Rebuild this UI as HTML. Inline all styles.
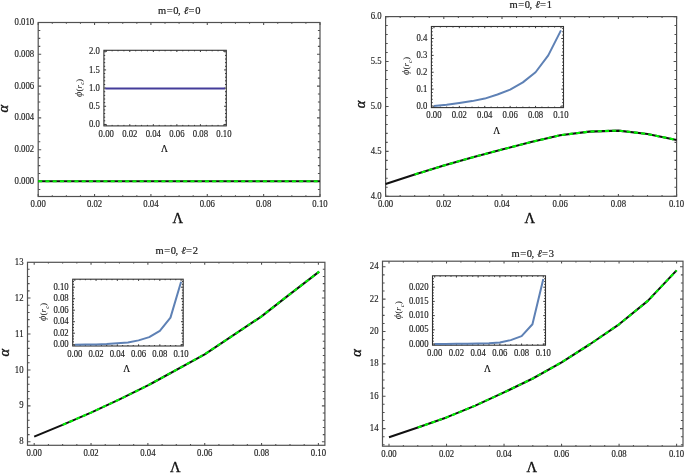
<!DOCTYPE html>
<html><head><meta charset="utf-8"><title>Plots</title>
<style>html,body{margin:0;padding:0;background:#fff;}svg{display:block;}</style></head>
<body><svg width="685" height="474" viewBox="0 0 685 474">
<rect width="685" height="474" fill="#fff"/>
<rect x="38.20" y="22.50" width="281.80" height="174.00" fill="none" stroke="#515151" stroke-width="1.2"/>
<path d="M38.20 196.50v-2.40M38.20 22.50v2.40M52.29 196.50v-1.30M52.29 22.50v1.30M66.38 196.50v-1.30M66.38 22.50v1.30M80.47 196.50v-1.30M80.47 22.50v1.30M94.56 196.50v-2.40M94.56 22.50v2.40M108.65 196.50v-1.30M108.65 22.50v1.30M122.74 196.50v-1.30M122.74 22.50v1.30M136.83 196.50v-1.30M136.83 22.50v1.30M150.92 196.50v-2.40M150.92 22.50v2.40M165.01 196.50v-1.30M165.01 22.50v1.30M179.10 196.50v-1.30M179.10 22.50v1.30M193.19 196.50v-1.30M193.19 22.50v1.30M207.28 196.50v-2.40M207.28 22.50v2.40M221.37 196.50v-1.30M221.37 22.50v1.30M235.46 196.50v-1.30M235.46 22.50v1.30M249.55 196.50v-1.30M249.55 22.50v1.30M263.64 196.50v-2.40M263.64 22.50v2.40M277.73 196.50v-1.30M277.73 22.50v1.30M291.82 196.50v-1.30M291.82 22.50v1.30M305.91 196.50v-1.30M305.91 22.50v1.30M320.00 196.50v-2.40M320.00 22.50v2.40M38.20 189.45h2.10M320.00 189.45h-2.10M38.20 181.50h3.00M320.00 181.50h-3.00M38.20 173.55h2.10M320.00 173.55h-2.10M38.20 165.60h2.10M320.00 165.60h-2.10M38.20 157.65h2.10M320.00 157.65h-2.10M38.20 149.70h3.00M320.00 149.70h-3.00M38.20 141.75h2.10M320.00 141.75h-2.10M38.20 133.80h2.10M320.00 133.80h-2.10M38.20 125.85h2.10M320.00 125.85h-2.10M38.20 117.90h3.00M320.00 117.90h-3.00M38.20 109.95h2.10M320.00 109.95h-2.10M38.20 102.00h2.10M320.00 102.00h-2.10M38.20 94.05h2.10M320.00 94.05h-2.10M38.20 86.10h3.00M320.00 86.10h-3.00M38.20 78.15h2.10M320.00 78.15h-2.10M38.20 70.20h2.10M320.00 70.20h-2.10M38.20 62.25h2.10M320.00 62.25h-2.10M38.20 54.30h3.00M320.00 54.30h-3.00M38.20 46.35h2.10M320.00 46.35h-2.10M38.20 38.40h2.10M320.00 38.40h-2.10M38.20 30.45h2.10M320.00 30.45h-2.10M38.20 22.50h3.00M320.00 22.50h-3.00" stroke="#515151" stroke-width="1.08" fill="none"/>
<g font-family='"Liberation Serif", "DejaVu Serif", serif' font-size="9.6" fill="#1a1a1a" stroke="#1a1a1a" stroke-width="0.15"><text transform="translate(38.20,207.30) scale(0.91,1)" text-anchor="middle">0.00</text><text transform="translate(94.56,207.30) scale(0.91,1)" text-anchor="middle">0.02</text><text transform="translate(150.92,207.30) scale(0.91,1)" text-anchor="middle">0.04</text><text transform="translate(207.28,207.30) scale(0.91,1)" text-anchor="middle">0.06</text><text transform="translate(263.64,207.30) scale(0.91,1)" text-anchor="middle">0.08</text><text transform="translate(320.00,207.30) scale(0.91,1)" text-anchor="middle">0.10</text><text transform="translate(34.20,184.09) scale(0.91,1)" text-anchor="end">0.000</text><text transform="translate(34.20,152.29) scale(0.91,1)" text-anchor="end">0.002</text><text transform="translate(34.20,120.49) scale(0.91,1)" text-anchor="end">0.004</text><text transform="translate(34.20,88.69) scale(0.91,1)" text-anchor="end">0.006</text><text transform="translate(34.20,56.89) scale(0.91,1)" text-anchor="end">0.008</text><text transform="translate(34.20,25.09) scale(0.91,1)" text-anchor="end">0.010</text></g>
<polyline points="38.20,181.20 66.38,181.20 320.00,181.20" fill="none" stroke="#111" stroke-width="2.1" stroke-linejoin="round"/><polyline points="38.20,181.20 66.38,181.20 320.00,181.20" fill="none" stroke="#00f000" stroke-width="2.1" stroke-dasharray="4 3.25" stroke-dashoffset="0"/>
<rect x="103.9" y="50.3" width="122.4" height="75.6" fill="#fff"/>
<rect x="103.90" y="50.30" width="122.40" height="75.60" fill="none" stroke="#333" stroke-width="1.1"/>
<path d="M106.25 125.90v-1.70M106.25 50.30v1.70M112.14 125.90v-1.00M112.14 50.30v1.00M118.02 125.90v-1.00M118.02 50.30v1.00M123.91 125.90v-1.00M123.91 50.30v1.00M129.79 125.90v-1.70M129.79 50.30v1.70M135.68 125.90v-1.00M135.68 50.30v1.00M141.56 125.90v-1.00M141.56 50.30v1.00M147.44 125.90v-1.00M147.44 50.30v1.00M153.33 125.90v-1.70M153.33 50.30v1.70M159.21 125.90v-1.00M159.21 50.30v1.00M165.10 125.90v-1.00M165.10 50.30v1.00M170.98 125.90v-1.00M170.98 50.30v1.00M176.87 125.90v-1.70M176.87 50.30v1.70M182.75 125.90v-1.00M182.75 50.30v1.00M188.64 125.90v-1.00M188.64 50.30v1.00M194.52 125.90v-1.00M194.52 50.30v1.00M200.41 125.90v-1.70M200.41 50.30v1.70M206.30 125.90v-1.00M206.30 50.30v1.00M212.18 125.90v-1.00M212.18 50.30v1.00M218.06 125.90v-1.00M218.06 50.30v1.00M223.95 125.90v-1.70M223.95 50.30v1.70M103.90 124.45h2.20M226.30 124.45h-2.20M103.90 120.81h1.30M226.30 120.81h-1.30M103.90 117.18h1.30M226.30 117.18h-1.30M103.90 113.55h1.30M226.30 113.55h-1.30M103.90 109.91h1.30M226.30 109.91h-1.30M103.90 106.28h2.20M226.30 106.28h-2.20M103.90 102.64h1.30M226.30 102.64h-1.30M103.90 99.00h1.30M226.30 99.00h-1.30M103.90 95.37h1.30M226.30 95.37h-1.30M103.90 91.73h1.30M226.30 91.73h-1.30M103.90 88.10h2.20M226.30 88.10h-2.20M103.90 84.47h1.30M226.30 84.47h-1.30M103.90 80.83h1.30M226.30 80.83h-1.30M103.90 77.19h1.30M226.30 77.19h-1.30M103.90 73.56h1.30M226.30 73.56h-1.30M103.90 69.92h2.20M226.30 69.92h-2.20M103.90 66.29h1.30M226.30 66.29h-1.30M103.90 62.65h1.30M226.30 62.65h-1.30M103.90 59.02h1.30M226.30 59.02h-1.30M103.90 55.38h1.30M226.30 55.38h-1.30M103.90 51.75h2.20M226.30 51.75h-2.20" stroke="#333" stroke-width="0.99" fill="none"/>
<g font-family='"Liberation Serif", "DejaVu Serif", serif' font-size="9.6" fill="#1a1a1a" stroke="#1a1a1a" stroke-width="0.15"><text transform="translate(106.25,136.70) scale(0.91,1)" text-anchor="middle">0.00</text><text transform="translate(129.79,136.70) scale(0.91,1)" text-anchor="middle">0.02</text><text transform="translate(153.33,136.70) scale(0.91,1)" text-anchor="middle">0.04</text><text transform="translate(176.87,136.70) scale(0.91,1)" text-anchor="middle">0.06</text><text transform="translate(200.41,136.70) scale(0.91,1)" text-anchor="middle">0.08</text><text transform="translate(223.95,136.70) scale(0.91,1)" text-anchor="middle">0.10</text><text transform="translate(99.90,127.04) scale(0.91,1)" text-anchor="end">0.0</text><text transform="translate(99.90,108.87) scale(0.91,1)" text-anchor="end">0.5</text><text transform="translate(99.90,90.69) scale(0.91,1)" text-anchor="end">1.0</text><text transform="translate(99.90,72.52) scale(0.91,1)" text-anchor="end">1.5</text><text transform="translate(99.90,54.34) scale(0.91,1)" text-anchor="end">2.0</text></g>
<polyline points="106.25,88.40 223.95,88.40" fill="none" stroke="#443c9a" stroke-width="2" stroke-linecap="square"/>
<text x="0" y="0" transform="translate(81.50,87.90) rotate(-90)" text-anchor="middle" font-family='"Liberation Serif", "DejaVu Serif", serif' font-size="9.2" fill="#1a1a1a"><tspan font-style="italic" font-size="10.5">ϕ</tspan>(<tspan font-style="italic">r</tspan><tspan font-style="italic" font-size="6.5" dy="2.8">c</tspan><tspan dy="-2.8">)</tspan></text>
<text transform="translate(164.50,152.30) scale(1.0,1)" text-anchor="middle" font-family='"Liberation Serif", "DejaVu Serif", serif' font-size="9.5" fill="#111" stroke="#111" stroke-width="0.2">Λ</text>
<text y="13.80" text-anchor="middle" font-family='"Liberation Serif", "DejaVu Serif", serif' font-size="10.5" fill="#1a1a1a" stroke="#1a1a1a" stroke-width="0.2"><tspan x="162.00" >m</tspan><tspan x="169.75" >=</tspan><tspan x="175.80" >0</tspan><tspan x="179.30" >,</tspan><tspan x="185.85" font-style="italic">ℓ</tspan><tspan x="191.50" >=</tspan><tspan x="197.85" >0</tspan></text>
<text x="0" y="0" transform="translate(4.80,108.70) rotate(-90)" text-anchor="middle" font-family='"Liberation Serif", "DejaVu Serif", serif' font-size="14.5" font-style="italic" fill="#111" stroke="#111" stroke-width="0.35" dy="3.4">α</text>
<text transform="translate(177.70,222.90) scale(1.07,1)" text-anchor="middle" font-family='"Liberation Serif", "DejaVu Serif", serif' font-size="13.6" fill="#111" stroke="#111" stroke-width="0.3">Λ</text>
<rect x="385.60" y="16.60" width="291.00" height="179.70" fill="none" stroke="#515151" stroke-width="1.2"/>
<path d="M385.60 196.30v-2.40M385.60 16.60v2.40M400.15 196.30v-1.30M400.15 16.60v1.30M414.70 196.30v-1.30M414.70 16.60v1.30M429.25 196.30v-1.30M429.25 16.60v1.30M443.80 196.30v-2.40M443.80 16.60v2.40M458.35 196.30v-1.30M458.35 16.60v1.30M472.90 196.30v-1.30M472.90 16.60v1.30M487.45 196.30v-1.30M487.45 16.60v1.30M502.00 196.30v-2.40M502.00 16.60v2.40M516.55 196.30v-1.30M516.55 16.60v1.30M531.10 196.30v-1.30M531.10 16.60v1.30M545.65 196.30v-1.30M545.65 16.60v1.30M560.20 196.30v-2.40M560.20 16.60v2.40M574.75 196.30v-1.30M574.75 16.60v1.30M589.30 196.30v-1.30M589.30 16.60v1.30M603.85 196.30v-1.30M603.85 16.60v1.30M618.40 196.30v-2.40M618.40 16.60v2.40M632.95 196.30v-1.30M632.95 16.60v1.30M647.50 196.30v-1.30M647.50 16.60v1.30M662.05 196.30v-1.30M662.05 16.60v1.30M676.60 196.30v-2.40M676.60 16.60v2.40M385.60 196.30h3.00M676.60 196.30h-3.00M385.60 187.31h2.10M676.60 187.31h-2.10M385.60 178.33h2.10M676.60 178.33h-2.10M385.60 169.35h2.10M676.60 169.35h-2.10M385.60 160.36h2.10M676.60 160.36h-2.10M385.60 151.38h3.00M676.60 151.38h-3.00M385.60 142.39h2.10M676.60 142.39h-2.10M385.60 133.40h2.10M676.60 133.40h-2.10M385.60 124.42h2.10M676.60 124.42h-2.10M385.60 115.43h2.10M676.60 115.43h-2.10M385.60 106.45h3.00M676.60 106.45h-3.00M385.60 97.46h2.10M676.60 97.46h-2.10M385.60 88.48h2.10M676.60 88.48h-2.10M385.60 79.49h2.10M676.60 79.49h-2.10M385.60 70.51h2.10M676.60 70.51h-2.10M385.60 61.53h3.00M676.60 61.53h-3.00M385.60 52.54h2.10M676.60 52.54h-2.10M385.60 43.55h2.10M676.60 43.55h-2.10M385.60 34.57h2.10M676.60 34.57h-2.10M385.60 25.58h2.10M676.60 25.58h-2.10M385.60 16.60h3.00M676.60 16.60h-3.00" stroke="#515151" stroke-width="1.08" fill="none"/>
<g font-family='"Liberation Serif", "DejaVu Serif", serif' font-size="9.6" fill="#1a1a1a" stroke="#1a1a1a" stroke-width="0.15"><text transform="translate(385.60,207.10) scale(0.91,1)" text-anchor="middle">0.00</text><text transform="translate(443.80,207.10) scale(0.91,1)" text-anchor="middle">0.02</text><text transform="translate(502.00,207.10) scale(0.91,1)" text-anchor="middle">0.04</text><text transform="translate(560.20,207.10) scale(0.91,1)" text-anchor="middle">0.06</text><text transform="translate(618.40,207.10) scale(0.91,1)" text-anchor="middle">0.08</text><text transform="translate(676.60,207.10) scale(0.91,1)" text-anchor="middle">0.10</text><text transform="translate(381.60,198.89) scale(0.91,1)" text-anchor="end">4.0</text><text transform="translate(381.60,153.97) scale(0.91,1)" text-anchor="end">4.5</text><text transform="translate(381.60,109.04) scale(0.91,1)" text-anchor="end">5.0</text><text transform="translate(381.60,64.12) scale(0.91,1)" text-anchor="end">5.5</text><text transform="translate(381.60,19.19) scale(0.91,1)" text-anchor="end">6.0</text></g>
<polyline points="385.60,184.00 414.70,174.50 443.80,165.60 472.90,157.20 502.00,149.50 531.10,142.10 560.20,135.20 589.30,131.60 618.40,130.60 647.50,134.00 676.60,140.00" fill="none" stroke="#111" stroke-width="2.1" stroke-linejoin="round"/><polyline points="414.70,174.50 443.80,165.60 472.90,157.20 502.00,149.50 531.10,142.10 560.20,135.20 589.30,131.60 618.40,130.60 647.50,134.00 676.60,140.00" fill="none" stroke="#00f000" stroke-width="2.1" stroke-dasharray="4 3.25" stroke-dashoffset="0"/>
<rect x="431.4" y="26.5" width="132.1" height="81.1" fill="#fff"/>
<rect x="431.40" y="26.50" width="132.10" height="81.10" fill="none" stroke="#333" stroke-width="1.1"/>
<path d="M433.94 107.60v-1.70M433.94 26.50v1.70M440.29 107.60v-1.00M440.29 26.50v1.00M446.64 107.60v-1.00M446.64 26.50v1.00M452.99 107.60v-1.00M452.99 26.50v1.00M459.34 107.60v-1.70M459.34 26.50v1.70M465.69 107.60v-1.00M465.69 26.50v1.00M472.05 107.60v-1.00M472.05 26.50v1.00M478.40 107.60v-1.00M478.40 26.50v1.00M484.75 107.60v-1.70M484.75 26.50v1.70M491.10 107.60v-1.00M491.10 26.50v1.00M497.45 107.60v-1.00M497.45 26.50v1.00M503.80 107.60v-1.00M503.80 26.50v1.00M510.15 107.60v-1.70M510.15 26.50v1.70M516.50 107.60v-1.00M516.50 26.50v1.00M522.85 107.60v-1.00M522.85 26.50v1.00M529.21 107.60v-1.00M529.21 26.50v1.00M535.56 107.60v-1.70M535.56 26.50v1.70M541.91 107.60v-1.00M541.91 26.50v1.00M548.26 107.60v-1.00M548.26 26.50v1.00M554.61 107.60v-1.00M554.61 26.50v1.00M560.96 107.60v-1.70M560.96 26.50v1.70M431.40 106.00h2.20M563.50 106.00h-2.20M431.40 102.62h1.30M563.50 102.62h-1.30M431.40 99.25h1.30M563.50 99.25h-1.30M431.40 95.88h1.30M563.50 95.88h-1.30M431.40 92.50h1.30M563.50 92.50h-1.30M431.40 89.12h2.20M563.50 89.12h-2.20M431.40 85.75h1.30M563.50 85.75h-1.30M431.40 82.38h1.30M563.50 82.38h-1.30M431.40 79.00h1.30M563.50 79.00h-1.30M431.40 75.62h1.30M563.50 75.62h-1.30M431.40 72.25h2.20M563.50 72.25h-2.20M431.40 68.88h1.30M563.50 68.88h-1.30M431.40 65.50h1.30M563.50 65.50h-1.30M431.40 62.12h1.30M563.50 62.12h-1.30M431.40 58.75h1.30M563.50 58.75h-1.30M431.40 55.38h2.20M563.50 55.38h-2.20M431.40 52.00h1.30M563.50 52.00h-1.30M431.40 48.62h1.30M563.50 48.62h-1.30M431.40 45.25h1.30M563.50 45.25h-1.30M431.40 41.88h1.30M563.50 41.88h-1.30M431.40 38.50h2.20M563.50 38.50h-2.20M431.40 35.13h1.30M563.50 35.13h-1.30M431.40 31.75h1.30M563.50 31.75h-1.30M431.40 28.38h1.30M563.50 28.38h-1.30" stroke="#333" stroke-width="0.99" fill="none"/>
<g font-family='"Liberation Serif", "DejaVu Serif", serif' font-size="9.6" fill="#1a1a1a" stroke="#1a1a1a" stroke-width="0.15"><text transform="translate(433.94,118.40) scale(0.91,1)" text-anchor="middle">0.00</text><text transform="translate(459.34,118.40) scale(0.91,1)" text-anchor="middle">0.02</text><text transform="translate(484.75,118.40) scale(0.91,1)" text-anchor="middle">0.04</text><text transform="translate(510.15,118.40) scale(0.91,1)" text-anchor="middle">0.06</text><text transform="translate(535.56,118.40) scale(0.91,1)" text-anchor="middle">0.08</text><text transform="translate(560.96,118.40) scale(0.91,1)" text-anchor="middle">0.10</text><text transform="translate(427.40,108.59) scale(0.91,1)" text-anchor="end">0.0</text><text transform="translate(427.40,91.72) scale(0.91,1)" text-anchor="end">0.1</text><text transform="translate(427.40,74.84) scale(0.91,1)" text-anchor="end">0.2</text><text transform="translate(427.40,57.97) scale(0.91,1)" text-anchor="end">0.3</text><text transform="translate(427.40,41.09) scale(0.91,1)" text-anchor="end">0.4</text></g>
<polyline points="433.94,106.00 446.64,104.65 459.34,102.96 472.05,101.11 484.75,98.58 497.45,94.53 510.15,89.63 522.85,82.38 535.56,72.25 548.26,55.38 560.96,30.40" fill="none" stroke="#5e81b5" stroke-width="2" stroke-linejoin="round"/>
<text x="0" y="0" transform="translate(409.30,66.00) rotate(-90)" text-anchor="middle" font-family='"Liberation Serif", "DejaVu Serif", serif' font-size="9.2" fill="#1a1a1a"><tspan font-style="italic" font-size="10.5">ϕ</tspan>(<tspan font-style="italic">r</tspan><tspan font-style="italic" font-size="6.5" dy="2.8">c</tspan><tspan dy="-2.8">)</tspan></text>
<text transform="translate(496.70,134.30) scale(1.0,1)" text-anchor="middle" font-family='"Liberation Serif", "DejaVu Serif", serif' font-size="9.5" fill="#111" stroke="#111" stroke-width="0.2">Λ</text>
<text y="8.00" text-anchor="middle" font-family='"Liberation Serif", "DejaVu Serif", serif' font-size="10.5" fill="#1a1a1a" stroke="#1a1a1a" stroke-width="0.2"><tspan x="513.50" >m</tspan><tspan x="521.25" >=</tspan><tspan x="527.30" >0</tspan><tspan x="530.80" >,</tspan><tspan x="537.35" font-style="italic">ℓ</tspan><tspan x="543.00" >=</tspan><tspan x="549.35" >1</tspan></text>
<text x="0" y="0" transform="translate(361.30,104.40) rotate(-90)" text-anchor="middle" font-family='"Liberation Serif", "DejaVu Serif", serif' font-size="14.5" font-style="italic" fill="#111" stroke="#111" stroke-width="0.35" dy="3.4">α</text>
<text transform="translate(529.90,222.60) scale(1.07,1)" text-anchor="middle" font-family='"Liberation Serif", "DejaVu Serif", serif' font-size="13.6" fill="#111" stroke="#111" stroke-width="0.3">Λ</text>
<rect x="27.50" y="262.30" width="297.40" height="183.00" fill="none" stroke="#515151" stroke-width="1.2"/>
<path d="M34.20 445.30v-2.40M34.20 262.30v2.40M48.41 445.30v-1.30M48.41 262.30v1.30M62.62 445.30v-1.30M62.62 262.30v1.30M76.83 445.30v-1.30M76.83 262.30v1.30M91.04 445.30v-2.40M91.04 262.30v2.40M105.25 445.30v-1.30M105.25 262.30v1.30M119.46 445.30v-1.30M119.46 262.30v1.30M133.67 445.30v-1.30M133.67 262.30v1.30M147.88 445.30v-2.40M147.88 262.30v2.40M162.09 445.30v-1.30M162.09 262.30v1.30M176.30 445.30v-1.30M176.30 262.30v1.30M190.51 445.30v-1.30M190.51 262.30v1.30M204.72 445.30v-2.40M204.72 262.30v2.40M218.93 445.30v-1.30M218.93 262.30v1.30M233.14 445.30v-1.30M233.14 262.30v1.30M247.35 445.30v-1.30M247.35 262.30v1.30M261.56 445.30v-2.40M261.56 262.30v2.40M275.77 445.30v-1.30M275.77 262.30v1.30M289.98 445.30v-1.30M289.98 262.30v1.30M304.19 445.30v-1.30M304.19 262.30v1.30M318.40 445.30v-2.40M318.40 262.30v2.40M27.50 441.80h3.00M324.90 441.80h-3.00M27.50 434.61h2.10M324.90 434.61h-2.10M27.50 427.42h2.10M324.90 427.42h-2.10M27.50 420.24h2.10M324.90 420.24h-2.10M27.50 413.05h2.10M324.90 413.05h-2.10M27.50 405.86h3.00M324.90 405.86h-3.00M27.50 398.67h2.10M324.90 398.67h-2.10M27.50 391.48h2.10M324.90 391.48h-2.10M27.50 384.30h2.10M324.90 384.30h-2.10M27.50 377.11h2.10M324.90 377.11h-2.10M27.50 369.92h3.00M324.90 369.92h-3.00M27.50 362.73h2.10M324.90 362.73h-2.10M27.50 355.54h2.10M324.90 355.54h-2.10M27.50 348.36h2.10M324.90 348.36h-2.10M27.50 341.17h2.10M324.90 341.17h-2.10M27.50 333.98h3.00M324.90 333.98h-3.00M27.50 326.79h2.10M324.90 326.79h-2.10M27.50 319.60h2.10M324.90 319.60h-2.10M27.50 312.42h2.10M324.90 312.42h-2.10M27.50 305.23h2.10M324.90 305.23h-2.10M27.50 298.04h3.00M324.90 298.04h-3.00M27.50 290.85h2.10M324.90 290.85h-2.10M27.50 283.66h2.10M324.90 283.66h-2.10M27.50 276.48h2.10M324.90 276.48h-2.10M27.50 269.29h2.10M324.90 269.29h-2.10" stroke="#515151" stroke-width="1.08" fill="none"/>
<g font-family='"Liberation Serif", "DejaVu Serif", serif' font-size="9.6" fill="#1a1a1a" stroke="#1a1a1a" stroke-width="0.15"><text transform="translate(34.20,456.10) scale(0.91,1)" text-anchor="middle">0.00</text><text transform="translate(91.04,456.10) scale(0.91,1)" text-anchor="middle">0.02</text><text transform="translate(147.88,456.10) scale(0.91,1)" text-anchor="middle">0.04</text><text transform="translate(204.72,456.10) scale(0.91,1)" text-anchor="middle">0.06</text><text transform="translate(261.56,456.10) scale(0.91,1)" text-anchor="middle">0.08</text><text transform="translate(318.40,456.10) scale(0.91,1)" text-anchor="middle">0.10</text><text transform="translate(23.50,444.39) scale(0.91,1)" text-anchor="end">8</text><text transform="translate(23.50,408.45) scale(0.91,1)" text-anchor="end">9</text><text transform="translate(23.50,372.51) scale(0.91,1)" text-anchor="end">10</text><text transform="translate(23.50,336.57) scale(0.91,1)" text-anchor="end">11</text><text transform="translate(23.50,300.63) scale(0.91,1)" text-anchor="end">12</text><text transform="translate(23.50,264.69) scale(0.91,1)" text-anchor="end">13</text></g>
<polyline points="34.20,436.60 62.60,424.90 91.00,412.60 119.50,399.40 147.90,385.40 152.40,383.00 204.70,354.30 261.20,316.60 290.30,293.80 319.20,271.60" fill="none" stroke="#111" stroke-width="2.1" stroke-linejoin="round"/><polyline points="62.60,424.90 91.00,412.60 119.50,399.40 147.90,385.40 152.40,383.00 204.70,354.30 261.20,316.60 290.30,293.80 319.20,271.60" fill="none" stroke="#00f000" stroke-width="2.1" stroke-dasharray="4 3.25" stroke-dashoffset="0"/>
<rect x="72.7" y="279.2" width="110.5" height="66.8" fill="#fff"/>
<rect x="72.70" y="279.20" width="110.50" height="66.80" fill="none" stroke="#333" stroke-width="1.1"/>
<path d="M74.80 346.00v-1.70M74.80 279.20v1.70M80.11 346.00v-1.00M80.11 279.20v1.00M85.43 346.00v-1.00M85.43 279.20v1.00M90.74 346.00v-1.00M90.74 279.20v1.00M96.06 346.00v-1.70M96.06 279.20v1.70M101.38 346.00v-1.00M101.38 279.20v1.00M106.69 346.00v-1.00M106.69 279.20v1.00M112.00 346.00v-1.00M112.00 279.20v1.00M117.32 346.00v-1.70M117.32 279.20v1.70M122.63 346.00v-1.00M122.63 279.20v1.00M127.95 346.00v-1.00M127.95 279.20v1.00M133.26 346.00v-1.00M133.26 279.20v1.00M138.58 346.00v-1.70M138.58 279.20v1.70M143.89 346.00v-1.00M143.89 279.20v1.00M149.21 346.00v-1.00M149.21 279.20v1.00M154.52 346.00v-1.00M154.52 279.20v1.00M159.84 346.00v-1.70M159.84 279.20v1.70M165.16 346.00v-1.00M165.16 279.20v1.00M170.47 346.00v-1.00M170.47 279.20v1.00M175.78 346.00v-1.00M175.78 279.20v1.00M181.10 346.00v-1.70M181.10 279.20v1.70M72.70 344.70h2.20M183.20 344.70h-2.20M72.70 341.82h1.30M183.20 341.82h-1.30M72.70 338.95h1.30M183.20 338.95h-1.30M72.70 336.07h1.30M183.20 336.07h-1.30M72.70 333.20h2.20M183.20 333.20h-2.20M72.70 330.32h1.30M183.20 330.32h-1.30M72.70 327.45h1.30M183.20 327.45h-1.30M72.70 324.57h1.30M183.20 324.57h-1.30M72.70 321.70h2.20M183.20 321.70h-2.20M72.70 318.82h1.30M183.20 318.82h-1.30M72.70 315.95h1.30M183.20 315.95h-1.30M72.70 313.07h1.30M183.20 313.07h-1.30M72.70 310.20h2.20M183.20 310.20h-2.20M72.70 307.32h1.30M183.20 307.32h-1.30M72.70 304.45h1.30M183.20 304.45h-1.30M72.70 301.57h1.30M183.20 301.57h-1.30M72.70 298.70h2.20M183.20 298.70h-2.20M72.70 295.82h1.30M183.20 295.82h-1.30M72.70 292.95h1.30M183.20 292.95h-1.30M72.70 290.07h1.30M183.20 290.07h-1.30M72.70 287.20h2.20M183.20 287.20h-2.20M72.70 284.32h1.30M183.20 284.32h-1.30M72.70 281.45h1.30M183.20 281.45h-1.30" stroke="#333" stroke-width="0.99" fill="none"/>
<g font-family='"Liberation Serif", "DejaVu Serif", serif' font-size="9.6" fill="#1a1a1a" stroke="#1a1a1a" stroke-width="0.15"><text transform="translate(74.80,356.80) scale(0.91,1)" text-anchor="middle">0.00</text><text transform="translate(96.06,356.80) scale(0.91,1)" text-anchor="middle">0.02</text><text transform="translate(117.32,356.80) scale(0.91,1)" text-anchor="middle">0.04</text><text transform="translate(138.58,356.80) scale(0.91,1)" text-anchor="middle">0.06</text><text transform="translate(159.84,356.80) scale(0.91,1)" text-anchor="middle">0.08</text><text transform="translate(181.10,356.80) scale(0.91,1)" text-anchor="middle">0.10</text><text transform="translate(68.70,347.29) scale(0.91,1)" text-anchor="end">0.00</text><text transform="translate(68.70,335.79) scale(0.91,1)" text-anchor="end">0.02</text><text transform="translate(68.70,324.29) scale(0.91,1)" text-anchor="end">0.04</text><text transform="translate(68.70,312.79) scale(0.91,1)" text-anchor="end">0.06</text><text transform="translate(68.70,301.29) scale(0.91,1)" text-anchor="end">0.08</text><text transform="translate(68.70,289.79) scale(0.91,1)" text-anchor="end">0.10</text></g>
<polyline points="74.80,344.70 85.43,344.58 96.06,344.41 106.69,344.12 117.32,343.26 127.95,342.40 138.58,340.39 149.21,337.11 159.84,330.78 170.47,317.62 181.10,281.74" fill="none" stroke="#5e81b5" stroke-width="2" stroke-linejoin="round"/>
<text x="0" y="0" transform="translate(45.90,311.90) rotate(-90)" text-anchor="middle" font-family='"Liberation Serif", "DejaVu Serif", serif' font-size="9.2" fill="#1a1a1a"><tspan font-style="italic" font-size="10.5">ϕ</tspan>(<tspan font-style="italic">r</tspan><tspan font-style="italic" font-size="6.5" dy="2.8">c</tspan><tspan dy="-2.8">)</tspan></text>
<text transform="translate(126.60,372.30) scale(1.0,1)" text-anchor="middle" font-family='"Liberation Serif", "DejaVu Serif", serif' font-size="9.5" fill="#111" stroke="#111" stroke-width="0.2">Λ</text>
<text y="254.10" text-anchor="middle" font-family='"Liberation Serif", "DejaVu Serif", serif' font-size="10.5" fill="#1a1a1a" stroke="#1a1a1a" stroke-width="0.2"><tspan x="159.50" >m</tspan><tspan x="167.25" >=</tspan><tspan x="173.30" >0</tspan><tspan x="176.80" >,</tspan><tspan x="183.35" font-style="italic">ℓ</tspan><tspan x="189.00" >=</tspan><tspan x="195.35" >2</tspan></text>
<text x="0" y="0" transform="translate(5.50,352.80) rotate(-90)" text-anchor="middle" font-family='"Liberation Serif", "DejaVu Serif", serif' font-size="14.5" font-style="italic" fill="#111" stroke="#111" stroke-width="0.35" dy="3.4">α</text>
<text transform="translate(175.30,471.90) scale(1.07,1)" text-anchor="middle" font-family='"Liberation Serif", "DejaVu Serif", serif' font-size="13.6" fill="#111" stroke="#111" stroke-width="0.3">Λ</text>
<rect x="382.50" y="261.20" width="300.50" height="185.00" fill="none" stroke="#515151" stroke-width="1.2"/>
<path d="M389.00 446.20v-2.40M389.00 261.20v2.40M403.38 446.20v-1.30M403.38 261.20v1.30M417.76 446.20v-1.30M417.76 261.20v1.30M432.14 446.20v-1.30M432.14 261.20v1.30M446.52 446.20v-2.40M446.52 261.20v2.40M460.90 446.20v-1.30M460.90 261.20v1.30M475.28 446.20v-1.30M475.28 261.20v1.30M489.66 446.20v-1.30M489.66 261.20v1.30M504.04 446.20v-2.40M504.04 261.20v2.40M518.42 446.20v-1.30M518.42 261.20v1.30M532.80 446.20v-1.30M532.80 261.20v1.30M547.18 446.20v-1.30M547.18 261.20v1.30M561.56 446.20v-2.40M561.56 261.20v2.40M575.94 446.20v-1.30M575.94 261.20v1.30M590.32 446.20v-1.30M590.32 261.20v1.30M604.70 446.20v-1.30M604.70 261.20v1.30M619.08 446.20v-2.40M619.08 261.20v2.40M633.46 446.20v-1.30M633.46 261.20v1.30M647.84 446.20v-1.30M647.84 261.20v1.30M662.22 446.20v-1.30M662.22 261.20v1.30M676.60 446.20v-2.40M676.60 261.20v2.40M382.50 444.78h2.10M683.00 444.78h-2.10M382.50 436.69h2.10M683.00 436.69h-2.10M382.50 428.60h3.00M683.00 428.60h-3.00M382.50 420.51h2.10M683.00 420.51h-2.10M382.50 412.42h2.10M683.00 412.42h-2.10M382.50 404.33h2.10M683.00 404.33h-2.10M382.50 396.24h3.00M683.00 396.24h-3.00M382.50 388.15h2.10M683.00 388.15h-2.10M382.50 380.06h2.10M683.00 380.06h-2.10M382.50 371.97h2.10M683.00 371.97h-2.10M382.50 363.88h3.00M683.00 363.88h-3.00M382.50 355.79h2.10M683.00 355.79h-2.10M382.50 347.70h2.10M683.00 347.70h-2.10M382.50 339.61h2.10M683.00 339.61h-2.10M382.50 331.52h3.00M683.00 331.52h-3.00M382.50 323.43h2.10M683.00 323.43h-2.10M382.50 315.34h2.10M683.00 315.34h-2.10M382.50 307.25h2.10M683.00 307.25h-2.10M382.50 299.16h3.00M683.00 299.16h-3.00M382.50 291.07h2.10M683.00 291.07h-2.10M382.50 282.98h2.10M683.00 282.98h-2.10M382.50 274.89h2.10M683.00 274.89h-2.10M382.50 266.80h3.00M683.00 266.80h-3.00" stroke="#515151" stroke-width="1.08" fill="none"/>
<g font-family='"Liberation Serif", "DejaVu Serif", serif' font-size="9.6" fill="#1a1a1a" stroke="#1a1a1a" stroke-width="0.15"><text transform="translate(389.00,457.00) scale(0.91,1)" text-anchor="middle">0.00</text><text transform="translate(446.52,457.00) scale(0.91,1)" text-anchor="middle">0.02</text><text transform="translate(504.04,457.00) scale(0.91,1)" text-anchor="middle">0.04</text><text transform="translate(561.56,457.00) scale(0.91,1)" text-anchor="middle">0.06</text><text transform="translate(619.08,457.00) scale(0.91,1)" text-anchor="middle">0.08</text><text transform="translate(676.60,457.00) scale(0.91,1)" text-anchor="middle">0.10</text><text transform="translate(378.50,431.19) scale(0.91,1)" text-anchor="end">14</text><text transform="translate(378.50,398.83) scale(0.91,1)" text-anchor="end">16</text><text transform="translate(378.50,366.47) scale(0.91,1)" text-anchor="end">18</text><text transform="translate(378.50,334.11) scale(0.91,1)" text-anchor="end">20</text><text transform="translate(378.50,301.75) scale(0.91,1)" text-anchor="end">22</text><text transform="translate(378.50,269.39) scale(0.91,1)" text-anchor="end">24</text></g>
<polyline points="389.00,437.20 417.80,427.60 446.50,417.40 475.30,405.60 504.00,392.40 532.80,378.50 561.60,362.30 590.30,344.00 619.10,324.30 647.80,300.90 676.60,270.40" fill="none" stroke="#111" stroke-width="2.1" stroke-linejoin="round"/><polyline points="417.80,427.60 446.50,417.40 475.30,405.60 504.00,392.40 532.80,378.50 561.60,362.30 590.30,344.00 619.10,324.30 647.80,300.90 676.60,270.40" fill="none" stroke="#00f000" stroke-width="2.1" stroke-dasharray="4 3.25" stroke-dashoffset="0"/>
<rect x="432.5" y="275.8" width="113" height="69.4" fill="#fff"/>
<rect x="432.50" y="275.80" width="113.00" height="69.40" fill="none" stroke="#333" stroke-width="1.1"/>
<path d="M434.70 345.20v-1.70M434.70 275.80v1.70M440.13 345.20v-1.00M440.13 275.80v1.00M445.56 345.20v-1.00M445.56 275.80v1.00M450.99 345.20v-1.00M450.99 275.80v1.00M456.42 345.20v-1.70M456.42 275.80v1.70M461.85 345.20v-1.00M461.85 275.80v1.00M467.28 345.20v-1.00M467.28 275.80v1.00M472.71 345.20v-1.00M472.71 275.80v1.00M478.14 345.20v-1.70M478.14 275.80v1.70M483.57 345.20v-1.00M483.57 275.80v1.00M489.00 345.20v-1.00M489.00 275.80v1.00M494.43 345.20v-1.00M494.43 275.80v1.00M499.86 345.20v-1.70M499.86 275.80v1.70M505.29 345.20v-1.00M505.29 275.80v1.00M510.72 345.20v-1.00M510.72 275.80v1.00M516.15 345.20v-1.00M516.15 275.80v1.00M521.58 345.20v-1.70M521.58 275.80v1.70M527.01 345.20v-1.00M527.01 275.80v1.00M532.44 345.20v-1.00M532.44 275.80v1.00M537.87 345.20v-1.00M537.87 275.80v1.00M543.30 345.20v-1.70M543.30 275.80v1.70M432.50 344.00h2.20M545.50 344.00h-2.20M432.50 341.16h1.30M545.50 341.16h-1.30M432.50 338.32h1.30M545.50 338.32h-1.30M432.50 335.48h1.30M545.50 335.48h-1.30M432.50 332.64h1.30M545.50 332.64h-1.30M432.50 329.80h2.20M545.50 329.80h-2.20M432.50 326.96h1.30M545.50 326.96h-1.30M432.50 324.12h1.30M545.50 324.12h-1.30M432.50 321.28h1.30M545.50 321.28h-1.30M432.50 318.44h1.30M545.50 318.44h-1.30M432.50 315.60h2.20M545.50 315.60h-2.20M432.50 312.76h1.30M545.50 312.76h-1.30M432.50 309.92h1.30M545.50 309.92h-1.30M432.50 307.08h1.30M545.50 307.08h-1.30M432.50 304.24h1.30M545.50 304.24h-1.30M432.50 301.40h2.20M545.50 301.40h-2.20M432.50 298.56h1.30M545.50 298.56h-1.30M432.50 295.72h1.30M545.50 295.72h-1.30M432.50 292.88h1.30M545.50 292.88h-1.30M432.50 290.04h1.30M545.50 290.04h-1.30M432.50 287.20h2.20M545.50 287.20h-2.20M432.50 284.36h1.30M545.50 284.36h-1.30M432.50 281.52h1.30M545.50 281.52h-1.30M432.50 278.68h1.30M545.50 278.68h-1.30" stroke="#333" stroke-width="0.99" fill="none"/>
<g font-family='"Liberation Serif", "DejaVu Serif", serif' font-size="9.6" fill="#1a1a1a" stroke="#1a1a1a" stroke-width="0.15"><text transform="translate(434.70,356.00) scale(0.91,1)" text-anchor="middle">0.00</text><text transform="translate(456.42,356.00) scale(0.91,1)" text-anchor="middle">0.02</text><text transform="translate(478.14,356.00) scale(0.91,1)" text-anchor="middle">0.04</text><text transform="translate(499.86,356.00) scale(0.91,1)" text-anchor="middle">0.06</text><text transform="translate(521.58,356.00) scale(0.91,1)" text-anchor="middle">0.08</text><text transform="translate(543.30,356.00) scale(0.91,1)" text-anchor="middle">0.10</text><text transform="translate(428.50,346.59) scale(0.91,1)" text-anchor="end">0.000</text><text transform="translate(428.50,332.39) scale(0.91,1)" text-anchor="end">0.005</text><text transform="translate(428.50,318.19) scale(0.91,1)" text-anchor="end">0.010</text><text transform="translate(428.50,303.99) scale(0.91,1)" text-anchor="end">0.015</text><text transform="translate(428.50,289.79) scale(0.91,1)" text-anchor="end">0.020</text></g>
<polyline points="434.70,344.00 445.56,343.94 456.42,343.86 467.28,343.72 478.14,343.43 489.00,343.15 499.86,342.41 510.72,340.11 521.58,336.10 532.44,324.21 543.30,278.96" fill="none" stroke="#5e81b5" stroke-width="2" stroke-linejoin="round"/>
<text x="0" y="0" transform="translate(400.80,310.20) rotate(-90)" text-anchor="middle" font-family='"Liberation Serif", "DejaVu Serif", serif' font-size="9.2" fill="#1a1a1a"><tspan font-style="italic" font-size="10.5">ϕ</tspan>(<tspan font-style="italic">r</tspan><tspan font-style="italic" font-size="6.5" dy="2.8">c</tspan><tspan dy="-2.8">)</tspan></text>
<text transform="translate(487.50,371.80) scale(1.0,1)" text-anchor="middle" font-family='"Liberation Serif", "DejaVu Serif", serif' font-size="9.5" fill="#111" stroke="#111" stroke-width="0.2">Λ</text>
<text y="257.40" text-anchor="middle" font-family='"Liberation Serif", "DejaVu Serif", serif' font-size="10.5" fill="#1a1a1a" stroke="#1a1a1a" stroke-width="0.2"><tspan x="515.50" >m</tspan><tspan x="523.25" >=</tspan><tspan x="529.30" >0</tspan><tspan x="532.80" >,</tspan><tspan x="539.35" font-style="italic">ℓ</tspan><tspan x="545.00" >=</tspan><tspan x="551.35" >3</tspan></text>
<text x="0" y="0" transform="translate(357.20,353.00) rotate(-90)" text-anchor="middle" font-family='"Liberation Serif", "DejaVu Serif", serif' font-size="14.5" font-style="italic" fill="#111" stroke="#111" stroke-width="0.35" dy="3.4">α</text>
<text transform="translate(531.90,472.00) scale(1.07,1)" text-anchor="middle" font-family='"Liberation Serif", "DejaVu Serif", serif' font-size="13.6" fill="#111" stroke="#111" stroke-width="0.3">Λ</text>
</svg></body></html>
